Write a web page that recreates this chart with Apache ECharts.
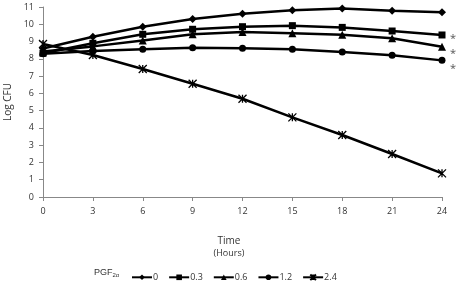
<!DOCTYPE html>
<html>
<head>
<meta charset="utf-8">
<script src="https://cdn.jsdelivr.net/npm/echarts@6/dist/echarts.min.js"></script>
<style>
  html, body { margin: 0; padding: 0; background: #fff; }
  #growth { width: 458px; height: 285px; }
</style>
</head>
<body>
<div id="growth"></div>
<script>
// time points (hours)
var hours = [0, 3, 6, 9, 12, 15, 18, 21, 24];
// Log CFU per PGF2a dose
var dose0 = [8.6, 9.28, 9.86, 10.31, 10.61, 10.81, 10.92, 10.79, 10.69];
var dose03 = [8.32, 8.9, 9.42, 9.71, 9.86, 9.92, 9.82, 9.61, 9.38];
var dose06 = [8.42, 8.72, 9.06, 9.42, 9.55, 9.48, 9.4, 9.19, 8.7];
var dose12 = [8.3, 8.45, 8.55, 8.64, 8.61, 8.55, 8.4, 8.2, 7.91];
var dose24 = [8.86, 8.22, 7.41, 6.56, 5.69, 4.61, 3.59, 2.49, 1.37];
var doseNames = ['0', '0.3', '0.6', '1.2', '2.4'];

var myChart = echarts.init(document.getElementById('growth'));
var font = '"Open Sans", "DejaVu Sans", sans-serif';
var crossPath = 'path://M0,0L10,10M10,0L0,10M5,0L5,10';

function pairs(arr) {
  return hours.map(function (h, i) { return [h, arr[i]]; });
}

function makeSeries(name, data, symbol, size) {
  return {
    name: name,
    type: 'line',
    data: pairs(data),
    symbol: symbol,
    symbolSize: size,
    showAllSymbol: true,
    lineStyle: { color: '#000', width: 2.5 },
    itemStyle: { color: '#000' },
    animation: false
  };
}

var s24 = makeSeries('2.4', dose24, crossPath, 8);
s24.itemStyle = { color: 'none', borderColor: '#000', borderWidth: 1.3 };

myChart.setOption({
  textStyle: { fontFamily: font },
  grid: { left: 43, right: 16, top: 7, bottom: 88, outerBoundsMode: 'none', containLabel: false },
  xAxis: {
    type: 'value',
    min: 0,
    max: 24,
    interval: 3,
    axisLine: { lineStyle: { color: '#888', width: 1 } },
    axisTick: { show: true, length: 4, lineStyle: { color: '#888' } },
    axisLabel: { color: '#333', fontSize: 9, margin: 10 },
    splitLine: { show: false }
  },
  yAxis: {
    type: 'value',
    min: 0,
    max: 11,
    interval: 1,
    name: 'Log CFU',
    nameLocation: 'middle',
    nameGap: 27,
    nameTextStyle: { color: '#333', fontSize: 10 },
    axisLine: { show: true, lineStyle: { color: '#888', width: 1 } },
    axisTick: { show: true, length: 4, lineStyle: { color: '#888' } },
    axisLabel: { color: '#333', fontSize: 9, margin: 9 },
    splitLine: { show: false }
  },
  legend: {
    data: doseNames,
    left: 126,
    top: 267,
    itemWidth: 20,
    itemHeight: 7,
    itemGap: 10,
    textStyle: { color: '#333', fontSize: 9, padding: [0, 0, 0, -4] }
  },
  graphic: [
    { type: 'text', left: 'center', top: 236, style: { text: 'Time', fontSize: 10, fill: '#333', fontFamily: font } },
    { type: 'text', left: 'center', top: 249, style: { text: '(Hours)', fontSize: 9, fill: '#333', fontFamily: font } },
    {
      type: 'text', left: 94, top: 268,
      style: {
        text: '{a|PGF}{b|2α}',
        fontFamily: font,
        rich: {
          a: { fontSize: 9, fill: '#333' },
          b: { fontSize: 6, fill: '#333', padding: [5, 0, 0, 0] }
        }
      }
    },
    { type: 'text', left: 450, top: 33, style: { text: '*', fontSize: 11, fill: '#555', fontFamily: font } },
    { type: 'text', left: 450, top: 48, style: { text: '*', fontSize: 11, fill: '#555', fontFamily: font } },
    { type: 'text', left: 450, top: 63, style: { text: '*', fontSize: 11, fill: '#555', fontFamily: font } }
  ],
  series: [
    makeSeries('0', dose0, 'diamond', 8),
    makeSeries('0.3', dose03, 'rect', 7),
    makeSeries('0.6', dose06, 'triangle', 8),
    makeSeries('1.2', dose12, 'circle', 7),
    s24
  ]
});
</script>
</body>
</html>
